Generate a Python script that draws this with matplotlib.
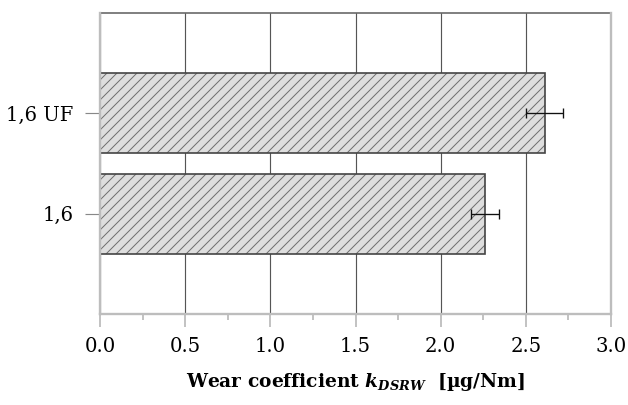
import matplotlib
matplotlib.use("Agg")
import matplotlib.pyplot as plt

# Data
categories = ["1,6", "1,6 UF"]
wear_coeff = [2.26, 2.61]
wear_err = [0.08, 0.11]
xtick_values = [0.0, 0.5, 1.0, 1.5, 2.0, 2.5, 3.0]
xtick_minor = [0.25, 0.75, 1.25, 1.75, 2.25, 2.75]

DPI = 120
plt.rcParams["font.family"] = ["DejaVu Serif"]
plt.rcParams["mathtext.fontset"] = "custom"
plt.rcParams["mathtext.it"] = "DejaVu Serif:italic:bold"
plt.rcParams["mathtext.rm"] = "DejaVu Serif:bold"
plt.rcParams["hatch.linewidth"] = 0.6

fig = plt.figure(figsize=(628 / DPI, 405 / DPI), dpi=DPI)
ax = fig.add_axes([100 / 628, 1 - 314 / 405, 511 / 628, 301 / 405])

ypos = list(range(len(categories)))
# hatched fill (hatch takes the edge colour), then a darker outline on top
ax.barh(ypos, wear_coeff, height=0.8, color="#dedede", edgecolor="#707070",
        linewidth=0, hatch="////", zorder=2)
ax.barh(ypos, wear_coeff, height=0.8, fill=False, edgecolor="#444444",
        linewidth=1.0, zorder=2.5)
ax.errorbar(wear_coeff, ypos, xerr=wear_err, fmt="none", ecolor="#111111",
            elinewidth=0.8, capsize=3, capthick=0.8, zorder=3)

ax.set_xlim(0, 3.0)
ax.set_ylim(-1.0, 2.0)
ax.set_yticks(ypos)
ax.set_yticklabels(categories)
ax.set_xticks(xtick_values)
ax.set_xticklabels([f"{v:.1f}" for v in xtick_values])
ax.set_xticks(xtick_minor, minor=True)

ax.grid(axis="x", which="major", color="#555555", linewidth=0.7, zorder=0)
ax.set_axisbelow(True)

for side in ("left", "right", "bottom"):
    ax.spines[side].set_color("#bdbdbd")
    ax.spines[side].set_linewidth(1.4)
    ax.spines[side].set_zorder(4)
ax.spines["top"].set_color("#6a6a6a")
ax.spines["top"].set_linewidth(1.0)

ax.tick_params(axis="x", which="major", length=7.8, width=0.9, color="#b0b0b0",
               labelsize=11.8, pad=6)
ax.tick_params(axis="x", which="minor", length=3.6, width=0.9, color="#b0b0b0")
ax.tick_params(axis="y", which="major", length=9, width=0.7, color="#888888",
               labelsize=11.8, pad=7)

ax.set_xlabel(r"Wear coefficient $k_{DSRW}$  [µg/Nm]", fontsize=11.2,
              fontweight="bold", labelpad=9)

fig.savefig("out.png", dpi=DPI)
